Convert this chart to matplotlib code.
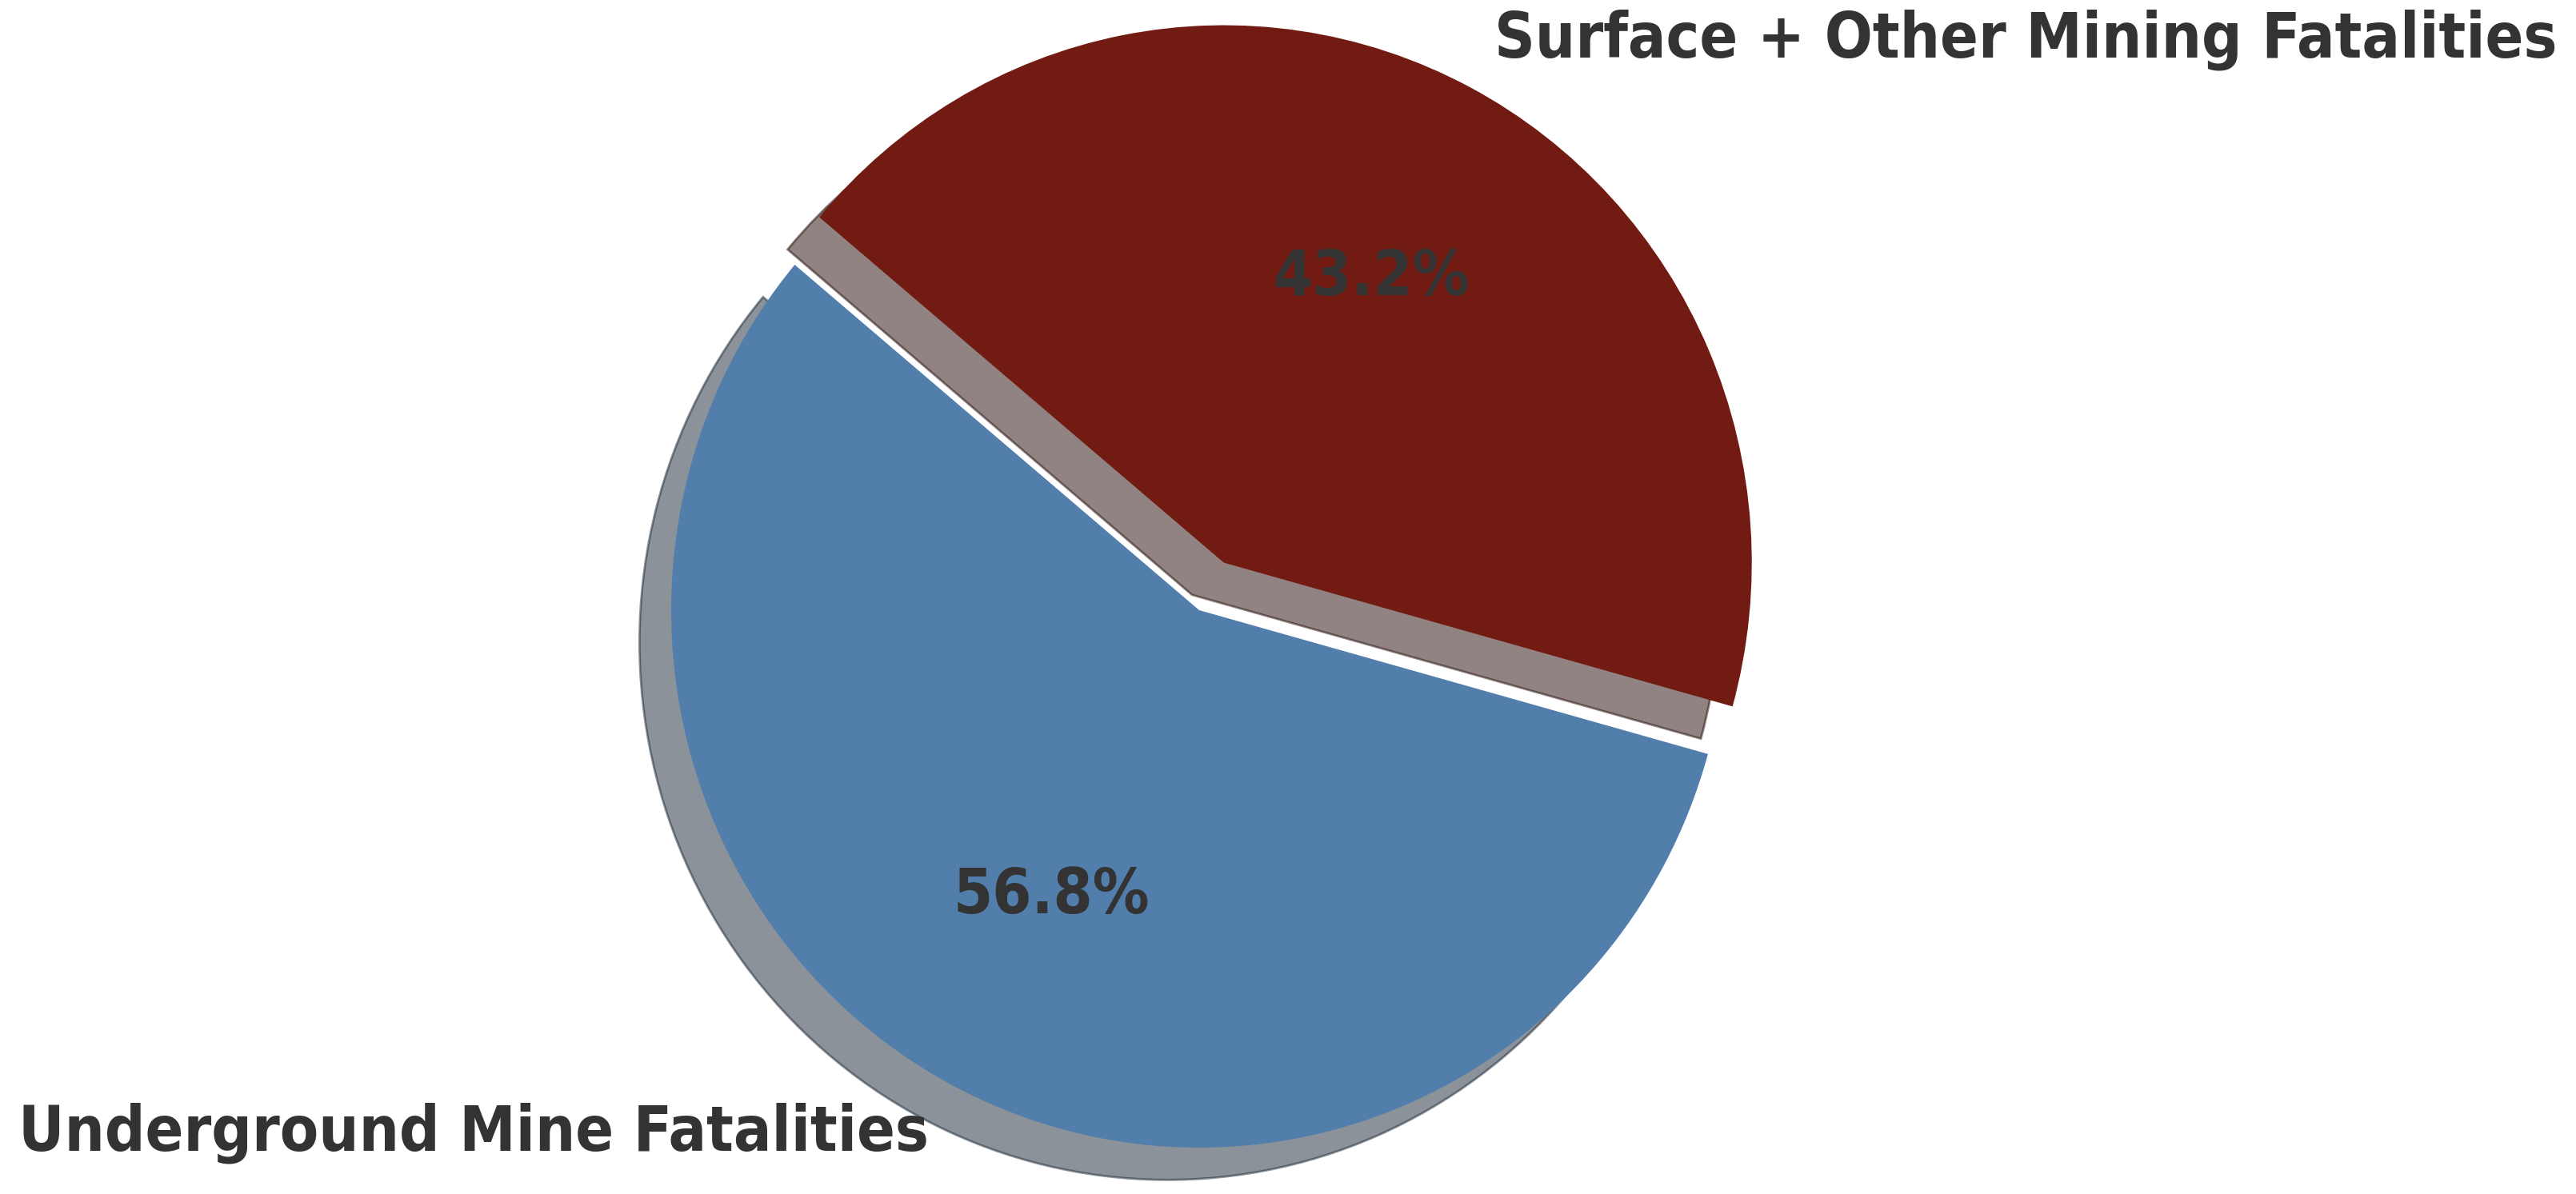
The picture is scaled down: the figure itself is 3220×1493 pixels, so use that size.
import matplotlib
matplotlib.use("Agg")
import matplotlib.pyplot as plt
from matplotlib import font_manager

labels = ["Underground Mine Fatalities", "Surface + Other Mining Fatalities"]
shares = [56.8, 43.2]
colors = ["#527EAC", "#721B12"]
explode = [0, 0.1]

W, H, DPI = 3220, 1493, 200
fig = plt.figure(figsize=(W / DPI, H / DPI), dpi=DPI)
ax = fig.add_axes([0, 0, 1, 1])

fp = font_manager.FontProperties(family="DejaVu Sans", weight="bold",
                                 stretch="condensed", size=28.3)

wedges, texts, autotexts = ax.pie(
    shares, labels=labels, colors=colors, explode=explode,
    startangle=140, autopct="%1.1f%%",
    shadow={"ox": -0.0216, "oy": -0.0216},
    textprops={"fontproperties": fp, "color": "#333333"},
)

cx, cy, rx, ry = 1499, H - 763, 660, 672
ax.set_aspect("auto")
ax.set_xlim(-cx / rx, (W - cx) / rx)
ax.set_ylim(-cy / ry, (H - cy) / ry)
ax.axis("off")

fig.savefig("out.png", dpi=DPI)
